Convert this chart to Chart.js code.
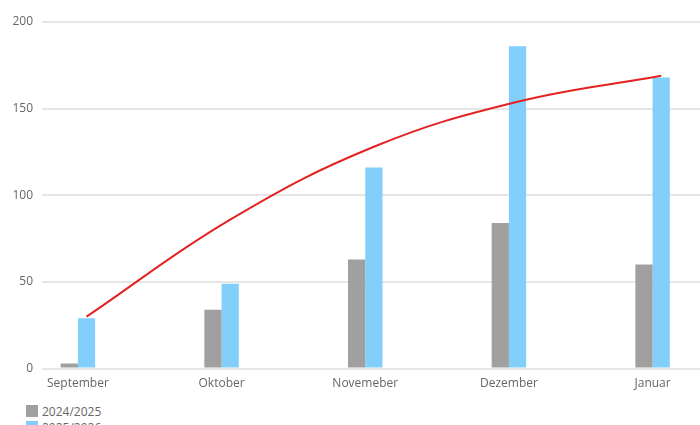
<!DOCTYPE html>
<html lang="de">
<head>
<meta charset="UTF-8">
<title>Saisonvergleich</title>
<script src="https://cdn.jsdelivr.net/npm/chart.js"></script>
<style>
    html, body { margin: 0; padding: 0; background: #fff; }
    .wrap { width: 700px; height: 425px; overflow: hidden; position: relative; font-family: "Open Sans", Lato, sans-serif; }
    .chart-box { width: 700px; height: 399px; position: relative; }
    .legend { list-style: none; margin: 0; padding: 4px 0 0 26px; }
    .legend li { display: flex; align-items: center; height: 16px; color: #666; font-size: 12px; }
    .legend span.box { display: inline-block; width: 12px; height: 12px; margin-right: 4px; }
</style>
</head>
<body>
<div class="wrap">
    <div class="chart-box"><canvas id="seasonChart"></canvas></div>
    <ul class="legend" id="legend"></ul>
</div>

<script>
    // data
    const months = ['September', 'Oktober', 'Novemeber', 'Dezember', 'Januar'];
    const season2425 = [3, 34, 63, 84, 60];
    const season2526 = [29, 49, 116, 186, 168];
    const trendValues = [30, 86, 128, 154, 169];
    const yTicks = [0, 50, 100, 150, 200];

    const grey = '#a0a0a0';
    const blue = '#81cffa';
    const red = '#e42222';

    // bar group takes this share of one month slot
    const groupShare = 0.24;
    // trend line sits over the centre of the right (blue) bar
    const lineShift = groupShare / 4;

    const toPoints = (vals, shift) => vals.map((v, i) => ({ x: i + shift, y: v }));

    const chart = new Chart(document.getElementById('seasonChart'), {
        data: {
            datasets: [
                {
                    type: 'line',
                    label: 'Trend',
                    data: toPoints(trendValues, lineShift),
                    borderColor: red,
                    borderWidth: 2,
                    pointRadius: 0,
                    tension: 0.4,
                    fill: false
                },
                {
                    type: 'bar',
                    label: '2024/2025',
                    data: toPoints(season2425, 0),
                    backgroundColor: grey,
                    categoryPercentage: groupShare,
                    barPercentage: 1
                },
                {
                    type: 'bar',
                    label: '2025/2026',
                    data: toPoints(season2526, 0),
                    backgroundColor: blue,
                    categoryPercentage: groupShare,
                    barPercentage: 1
                }
            ]
        },
        options: {
            responsive: true,
            maintainAspectRatio: false,
            animation: false,
            layout: { padding: { top: 22, right: 0, left: 0, bottom: 0 } },
            plugins: {
                legend: { display: false },
                tooltip: { enabled: false }
            },
            scales: {
                x: {
                    type: 'linear',
                    offset: false,
                    min: -0.25,
                    max: 4.33,
                    grid: { display: false, drawTicks: false },
                    border: { display: false },
                    afterBuildTicks: (axis) => {
                        axis.ticks = months.map((m, i) => ({ value: i }));
                    },
                    ticks: {
                        padding: 8,
                        color: '#666',
                        font: { family: 'Open Sans', size: 12 },
                        callback: (v) => months[v],
                        maxRotation: 0,
                        autoSkip: false
                    }
                },
                y: {
                    min: 0,
                    max: 200,
                    afterBuildTicks: (axis) => {
                        axis.ticks = yTicks.map(v => ({ value: v }));
                    },
                    afterFit: (axis) => { axis.width = 42; },
                    grid: { color: '#e6e6e6', lineWidth: 2, drawTicks: false },
                    border: { display: false },
                    ticks: {
                        padding: 9,
                        color: '#666',
                        font: { family: 'Open Sans', size: 12 }
                    }
                }
            }
        }
    });

    // legend below the chart, one entry per line
    const legend = document.getElementById('legend');
    chart.data.datasets.filter(d => d.type === 'bar').forEach(d => {
        const li = document.createElement('li');
        li.innerHTML = '<span class="box" style="background:' + d.backgroundColor + '"></span>' + d.label;
        legend.appendChild(li);
    });
</script>
</body>
</html>
